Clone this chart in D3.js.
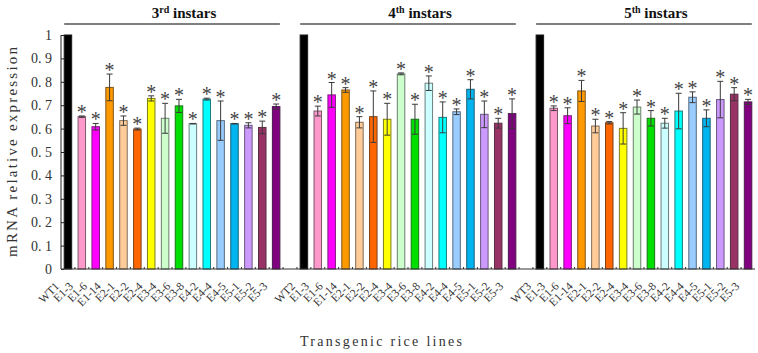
<!DOCTYPE html>
<html><head><meta charset="utf-8">
<script src="https://cdn.jsdelivr.net/npm/d3@7"></script>
<style>body{margin:0;background:#fff}svg{display:block}</style>
</head><body>
<svg id="c" width="758" height="353"></svg>
<script>
// ---- data ----
const stages = ["3", "4", "5"];
const stageSup = ["rd", "th", "th"];
const wtLabels = ["WT1", "WT2", "WT3"];
const lines = ["E1-3","E1-6","E1-14","E2-1","E2-2","E2-4","E3-4","E3-6","E3-8","E4-2","E4-4","E4-5","E5-1","E5-2","E5-3"];
const colors = ["#000000","#ff99cc","#ff00ff","#ff9900","#ffcc99","#ff6600","#ffff00","#ccffcc","#00e000","#ccffff","#00ffff","#99ccff","#00b4f0","#cc99ff","#993366","#800080"];
const values3 = [1, 0.651, 0.608, 0.776, 0.634, 0.598, 0.729, 0.644, 0.697, 0.621, 0.726, 0.634, 0.621, 0.614, 0.605, 0.694];
const errors3 = [0, 0.003, 0.014, 0.057, 0.020, 0.004, 0.011, 0.064, 0.028, 0.001, 0.004, 0.084, 0.001, 0.011, 0.027, 0.011];
const values4 = [1, 0.675, 0.744, 0.765, 0.627, 0.651, 0.640, 0.834, 0.640, 0.794, 0.648, 0.672, 0.768, 0.661, 0.623, 0.664];
const errors4 = [0, 0.021, 0.053, 0.010, 0.024, 0.110, 0.068, 0.004, 0.064, 0.031, 0.066, 0.012, 0.041, 0.057, 0.021, 0.063];
const values5 = [1, 0.687, 0.655, 0.761, 0.611, 0.625, 0.601, 0.692, 0.644, 0.623, 0.675, 0.734, 0.644, 0.724, 0.747, 0.714];
const errors5 = [0, 0.010, 0.034, 0.045, 0.029, 0.005, 0.067, 0.030, 0.033, 0.021, 0.076, 0.023, 0.036, 0.078, 0.028, 0.011];
const yTicks = [0, 0.1, 0.2, 0.3, 0.4, 0.5, 0.6, 0.7, 0.8, 0.9, 1];
const yTitle = "mRNA relative expression";
const xTitle = "Transgenic rice lines";

// ---- build rows ----
const allValues = [values3, values4, values5];
const allErrors = [errors3, errors4, errors5];
const rows = [];
const domain = [];
stages.forEach((s, g) => {
  const labels = [wtLabels[g], ...lines];
  labels.forEach((lab, i) => {
    const key = g + ":" + lab;
    domain.push(key);
    rows.push({key, g, i, label: lab, value: allValues[g][i], err: allErrors[g][i], color: colors[i]});
  });
  if (g < stages.length - 1) domain.push("gap" + g);
});

const svg = d3.select("#c");
const x = d3.scaleBand().domain(domain).range([61, 755]).paddingInner(0.46).paddingOuter(0.23);
const y = d3.scaleLinear().domain([0, 1]).range([269, 35]);
const serif = "'Liberation Serif', 'Times New Roman', serif";
const txt = "#333";

// bars
const stroke = c => d3.interpolateRgb(c, "#2a2a2a")(0.6);
svg.append("g").selectAll("rect").data(rows).join("rect")
  .attr("x", d => x(d.key)).attr("width", x.bandwidth())
  .attr("y", d => y(d.value)).attr("height", d => y(0) - y(d.value))
  .attr("fill", d => d.color).attr("stroke", d => stroke(d.color)).attr("stroke-width", 1);

// error bars
const eb = svg.append("g").attr("stroke", "#3a3a3a").attr("stroke-width", 1).attr("fill", "none");
const withErr = rows.filter(d => d.i > 0);
const cx = d => x(d.key) + x.bandwidth() / 2;
const cw = x.bandwidth() * 0.4;
eb.selectAll("path").data(withErr).join("path")
  .attr("d", d => {
    const t = y(d.value + d.err), b = y(d.value - d.err), c = cx(d);
    return `M${c},${t}V${b}M${c - cw},${t}H${c + cw}M${c - cw},${b}H${c + cw}`;
  });

// asterisks
svg.append("g").selectAll("text").data(withErr).join("text")
  .attr("x", cx).attr("y", d => y(d.value + d.err) + 3)
  .attr("text-anchor", "middle").attr("font-family", serif).attr("font-size", 20)
  .attr("fill", "#444").text("*");

// y axis
const yAxis = d3.axisLeft(y).tickValues(yTicks).tickSize(-3).tickPadding(9)
  .tickFormat(d => d === 0 ? "0" : d === 1 ? "1" : d3.format(".1f")(d).replace(".", ". "));
const ya = svg.append("g").attr("transform", "translate(61,0)").call(yAxis);
ya.select(".domain").attr("stroke", "#222").attr("d", `M0,${y(1)}V${y(0)}`);
ya.selectAll(".tick line").attr("stroke", "#222");
ya.selectAll("text").attr("font-family", serif).attr("font-size", 14).attr("fill", txt);

// x axis line with small up ticks at band boundaries
const xa = svg.append("g");
xa.append("line").attr("x1", 61).attr("x2", 755).attr("y1", y(0)).attr("y2", y(0)).attr("stroke", "#333").attr("stroke-width", 1);
const bounds = domain.slice(1).map(k => x(k) - x.step() * x.paddingInner() / 2);
xa.selectAll("line.t").data(bounds).join("line").attr("class", "t")
  .attr("x1", d => d).attr("x2", d => d).attr("y1", y(0)).attr("y2", y(0) - 2).attr("stroke", "#333");

// x labels
svg.append("g").selectAll("text").data(rows).join("text")
  .attr("transform", d => `translate(${cx(d) - 8},${y(0) + 18}) rotate(-45)`)
  .attr("text-anchor", "end").attr("font-family", serif).attr("font-size", 11.5)
  .attr("fill", txt).text(d => d.label);

// stage headers
stages.forEach((s, g) => {
  const first = x(g + ":" + wtLabels[g]);
  const last = x(g + ":" + lines[lines.length - 1]) + x.bandwidth();
  svg.append("line").attr("x1", first).attr("x2", last).attr("y1", 24).attr("y2", 24)
    .attr("stroke", "#555").attr("stroke-width", 1.5);
  const t = svg.append("text").attr("x", (first + last) / 2 + 12).attr("y", 18)
    .attr("text-anchor", "middle").attr("font-family", serif).attr("font-weight", "bold")
    .attr("font-size", 15).attr("fill", "#111");
  t.append("tspan").text(s);
  t.append("tspan").attr("font-size", 10).attr("dy", -5).text(stageSup[g]);
  t.append("tspan").attr("dy", 5).text(" instars");
});

// axis titles
svg.append("text").attr("transform", `translate(17,152) rotate(-90)`)
  .attr("text-anchor", "middle").attr("font-family", serif).attr("font-size", 15)
  .attr("fill", txt).attr("textLength", 210).attr("lengthAdjust", "spacing").text(yTitle);
svg.append("text").attr("x", 381).attr("y", 346)
  .attr("text-anchor", "middle").attr("font-family", serif).attr("font-size", 14)
  .attr("fill", txt).attr("textLength", 162).attr("lengthAdjust", "spacing").text(xTitle);
</script>
</body></html>
